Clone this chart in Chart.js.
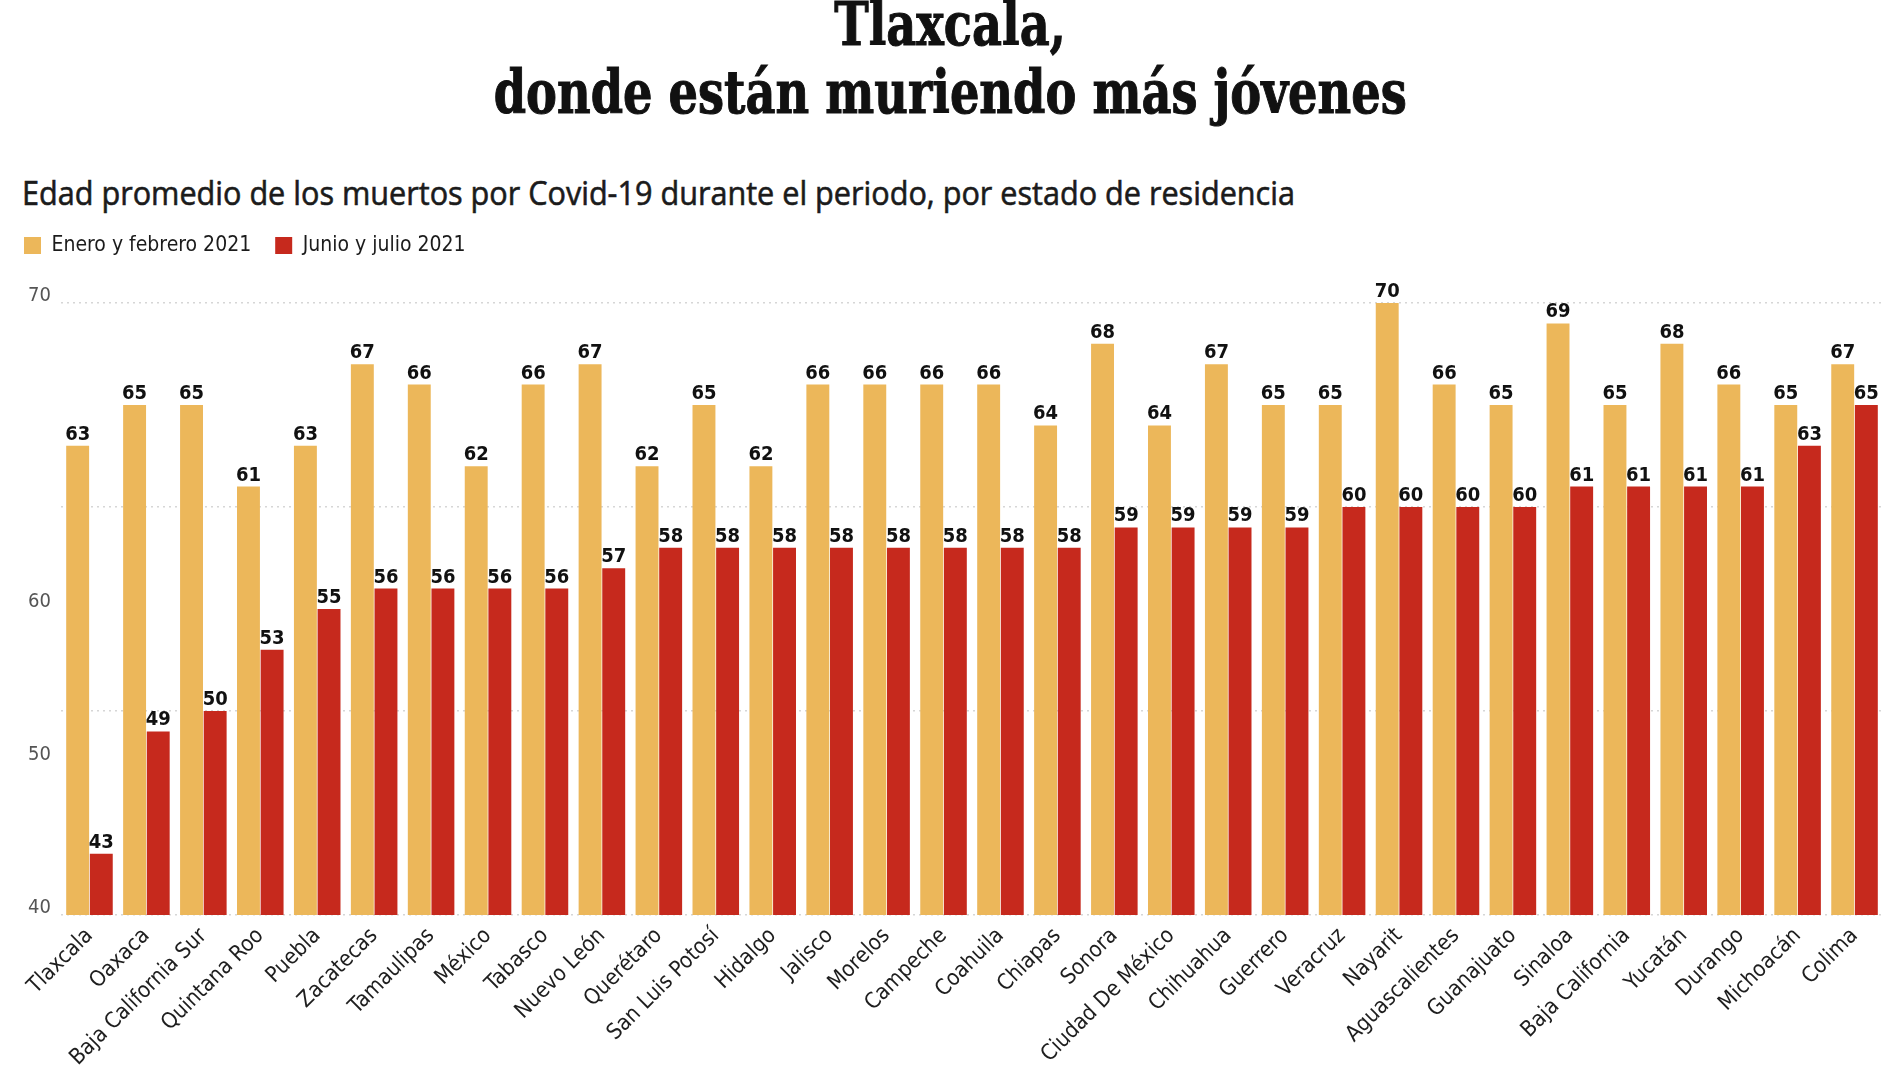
<!DOCTYPE html>
<html lang="es">
<head>
<meta charset="utf-8">
<title>Tlaxcala, donde están muriendo más jóvenes</title>
<script src="https://cdn.jsdelivr.net/npm/chart.js@4.4.0/dist/chart.umd.min.js"></script>
<style>
  html, body { margin: 0; padding: 0; background: #fff; }
  body { width: 1900px; height: 1068px; position: relative; overflow: hidden; }
  #title {
    position: absolute; top: -10px; left: 0; width: 1900px; text-align: center;
    font: bold 60px/68px "DejaVu Serif Condensed", "DejaVu Serif", serif; color: #111;
    -webkit-text-stroke: 1px #111;
  }
  #title span { display: inline-block; white-space: nowrap; transform-origin: 50% 50%; }
  #subtitle {
    position: absolute; left: 22px; top: 173px; white-space: nowrap;
    font: 500 33px/40px "Open Sans", sans-serif; color: #1b1b1b; transform-origin: 0 0;
    -webkit-text-stroke: 0.6px #1b1b1b;
  }
  #chartWrap { position: absolute; left: 0; top: 211px; width: 1900px; height: 857px; }
</style>
</head>
<body>
<div id="title">
  <div><span id="t1">Tlaxcala,</span></div>
  <div><span id="t2">donde están muriendo más jóvenes</span></div>
</div>
<div id="subtitle">Edad promedio de los muertos por Covid-19 durante el periodo, por estado de residencia</div>
<div id="chartWrap"><canvas id="edadChart" width="1900" height="857"></canvas></div>

<script>
const states = [
  'Tlaxcala', 'Oaxaca', 'Baja California Sur', 'Quintana Roo', 'Puebla', 'Zacatecas',
  'Tamaulipas', 'México', 'Tabasco', 'Nuevo León', 'Querétaro', 'San Luis Potosí',
  'Hidalgo', 'Jalisco', 'Morelos', 'Campeche', 'Coahuila', 'Chiapas', 'Sonora',
  'Ciudad De México', 'Chihuahua', 'Guerrero', 'Veracruz', 'Nayarit', 'Aguascalientes',
  'Guanajuato', 'Sinaloa', 'Baja California', 'Yucatán', 'Durango', 'Michoacán', 'Colima'
];
const eneroFebrero = [
  63, 65, 65, 61, 63, 67, 66, 62, 66, 67, 62, 65, 62, 66, 66, 66,
  66, 64, 68, 64, 67, 65, 65, 70, 66, 65, 69, 65, 68, 66, 65, 67
];
const junioJulio = [
  43, 49, 50, 53, 55, 56, 56, 56, 56, 57, 58, 58, 58, 58, 58, 58,
  58, 58, 59, 59, 59, 59, 60, 60, 60, 60, 61, 61, 61, 61, 63, 65
];
const yTickLabels = ['70', '', '60', '50', '40'];
const seriesNames = ['Enero y febrero 2021', 'Junio y julio 2021'];
const seriesColors = ['#ECB75A', '#C6291D'];

// squeeze the header text to the width used in the original graphic
function fitWidth(el, target) {
  const w = el.getBoundingClientRect().width;
  return target / w;
}
const titleScale = fitWidth(document.getElementById('t2'), 913);
document.getElementById('t1').style.transform = `scaleX(${titleScale})`;
document.getElementById('t2').style.transform = `scaleX(${titleScale})`;
const sub = document.getElementById('subtitle');
sub.style.transform = `scaleX(${fitWidth(sub, 1273)})`;

const labelFont = '"DejaVu Sans Condensed", "DejaVu Sans", sans-serif';

// extra room between legend and plot
const legendSpacing = {
  id: 'legendSpacing',
  beforeInit(chart) {
    if (!chart.legend) return;
    const fit = chart.legend.fit;
    chart.legend.fit = function () {
      fit.bind(chart.legend)();
      this.height += 37;
    };
  }
};

// value on top of each bar
const barValues = {
  id: 'barValues',
  afterDatasetsDraw(chart) {
    const ctx = chart.ctx;
    ctx.save();
    ctx.font = `bold 20px ${labelFont}`;
    ctx.fillStyle = '#111';
    ctx.textAlign = 'center';
    ctx.textBaseline = 'alphabetic';
    chart.data.datasets.forEach((ds, i) => {
      chart.getDatasetMeta(i).data.forEach((bar, j) => {
        ctx.fillText(ds.data[j], bar.x, bar.y - 6);
      });
    });
    ctx.restore();
  }
};

const ctx = document.getElementById('edadChart').getContext('2d');
new Chart(ctx, {
  type: 'bar',
  data: {
    labels: states,
    datasets: [
      { label: seriesNames[0], data: eneroFebrero, backgroundColor: seriesColors[0], borderWidth: 0 },
      { label: seriesNames[1], data: junioJulio, backgroundColor: seriesColors[1], borderWidth: 0 }
    ]
  },
  options: {
    responsive: false,
    maintainAspectRatio: false,
    animation: false,
    devicePixelRatio: 1,
    layout: { padding: { left: 0, right: 17, top: 0, bottom: 0 } },
    datasets: { bar: { barPercentage: 0.97, categoryPercentage: 0.83 } },
    plugins: {
      tooltip: { enabled: false },
      legend: {
        position: 'top',
        align: 'start',
        labels: {
          boxWidth: 17, boxHeight: 17, padding: 24,
          color: '#1b1b1b',
          font: { family: labelFont, size: 21 }
        }
      }
    },
    scales: {
      x: {
        grid: { display: false },
        border: { display: false },
        ticks: {
          autoSkip: false, maxRotation: 45, minRotation: 45, padding: 0,
          color: '#1e1e1e', font: { family: labelFont, size: 22 }
        },
        afterFit(scale) { scale.height = 153; }
      },
      y: {
        position: 'left',
        min: 40, max: 70,
        ticks: { display: false, stepSize: 10 },
        grid: { color: '#d6d6d6', lineWidth: 1.5, drawTicks: false },
        border: { display: false, dash: [2, 4] },
        afterFit(scale) { scale.width = 0; }
      },
      yLabels: {
        type: 'category',
        position: 'left',
        labels: yTickLabels,
        offset: false,
        grid: { display: false, drawTicks: false },
        border: { display: false },
        ticks: {
          padding: 10, labelOffset: -7, autoSkip: false,
          color: '#555', font: { family: labelFont, size: 20 }
        },
        afterFit(scale) { scale.width = 61; }
      }
    }
  },
  plugins: [legendSpacing, barValues]
});
</script>
</body>
</html>
